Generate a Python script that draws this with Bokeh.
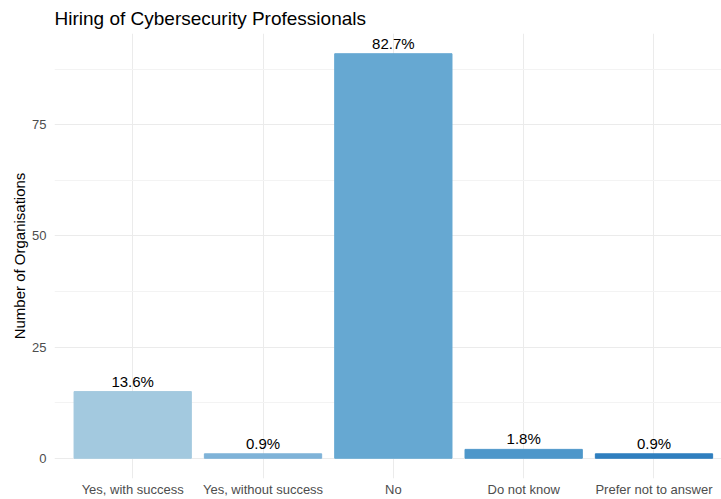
from bokeh.plotting import figure
from bokeh.models import ColumnDataSource, FixedTicker, Range1d
from bokeh.embed import file_html
from bokeh.resources import INLINE
from bokeh.core.properties import value

categories = ["Yes, with success", "Yes, without success", "No", "Do not know", "Prefer not to answer"]
counts = [15, 1, 91, 2, 1]
pct_labels = ["13.6%", "0.9%", "82.7%", "1.8%", "0.9%"]
colors = ["#A3C9DF", "#7FB3D8", "#66A8D2", "#4E97CA", "#2F7FBF"]

positions = list(range(1, len(categories) + 1))
src = ColumnDataSource(dict(x=positions, cnt=counts, lab=pct_labels, col=colors))

p = figure(x_range=Range1d(0.4, 5.518),
           y_range=Range1d(-4.55, 95.55),
           width=721, height=499, output_backend="svg", toolbar_location=None,
           title="Hiring of Cybersecurity Professionals",
           min_border_left=54, min_border_right=0, min_border_top=32, min_border_bottom=0)

p.vbar(x="x", top="cnt", bottom=0, width=0.9, fill_color="col", line_color="col", source=src)
p.text(x="x", y="cnt", text="lab", source=src, text_align="center", text_baseline="bottom",
       y_offset=-2, text_font=value("Liberation Sans"), text_font_size="15px", text_color="#000000")

p.outline_line_color = None
p.background_fill_color = "white"
p.border_fill_color = "white"

p.title.text_font = "Liberation Sans"
p.title.text_font_size = "19px"
p.title.text_font_style = "normal"
p.title.text_color = "#000000"
p.title.offset = 0

p.xaxis.ticker = FixedTicker(ticks=positions)
p.xaxis.major_label_overrides = {pos: cat for pos, cat in zip(positions, categories)}
p.yaxis.ticker = FixedTicker(ticks=[0, 25, 50, 75], minor_ticks=[12.5, 37.5, 62.5, 87.5])
p.yaxis.axis_label = "Number of Organisations"
p.yaxis.axis_label_text_font = "Liberation Sans"
p.yaxis.axis_label_text_font_size = "15px"
p.yaxis.axis_label_text_font_style = "normal"
p.yaxis.axis_label_text_color = "#000000"
p.yaxis.axis_label_standoff = 1

for ax in (p.xaxis, p.yaxis):
    ax.axis_line_color = None
    ax.major_tick_line_color = None
    ax.minor_tick_line_color = None
    ax.major_tick_out = 0
    ax.major_tick_in = 0
    ax.minor_tick_out = 0
    ax.minor_tick_in = 0
    ax.major_label_text_font = "Liberation Sans"
    ax.major_label_text_font_size = "13px"
    ax.major_label_text_color = "#4D4D4D"
p.yaxis.major_label_standoff = 8
p.xaxis.major_label_standoff = 3

p.ygrid.grid_line_color = "#EBEBEB"
p.ygrid.grid_line_width = 1
p.ygrid.minor_grid_line_color = "#F3F3F3"
p.ygrid.minor_grid_line_width = 1
p.xgrid.grid_line_color = "#EBEBEB"
p.xgrid.grid_line_width = 1

open("out.html", "w").write(file_html(p, INLINE))
